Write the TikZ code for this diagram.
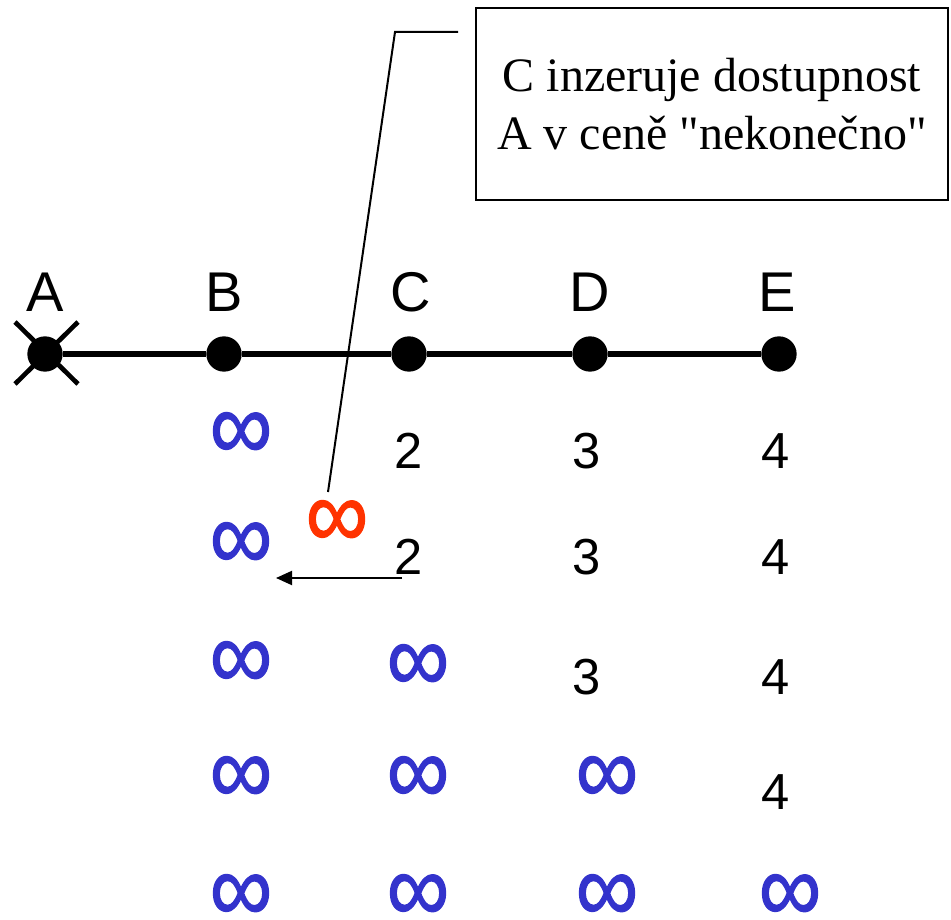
\documentclass[tikz,border=0pt]{standalone}
\usepackage{fontspec}
\setmainfont{Liberation Sans}
\newfontfamily\serifbox{Liberation Serif}
\newfontfamily\inffont[FakeBold=1.2]{Liberation Sans}
\usetikzlibrary{arrows.meta}
\definecolor{infblue}{RGB}{51,51,204}
\definecolor{infred}{RGB}{255,51,0}
\newcommand{\myinf}{\scalebox{1}[1.12]{\inffont\fontsize{66}{70}\selectfont ∞}}
\begin{document}
\begin{tikzpicture}[x=0.75pt,y=-0.75pt,
  dot/.style={circle,fill=black,inner sep=0pt,minimum size=26.5pt},
  lbl/.style={font=\fontsize{42}{48}\selectfont,inner sep=0pt},
  num/.style={font=\fontsize{38}{44}\selectfont,inner sep=0pt},
  inf/.style={text=infblue,inner sep=0pt},
  infr/.style={inf,text=infred},
  line/.style={line width=4pt},
  thin/.style={line width=1.5pt}]
\useasboundingbox (0,0) rectangle (951,920);
% nodes on the line
\node[dot] (A) at (45,354) {};
\node[dot] (B) at (224,354) {};
\node[dot] (C) at (409,354) {};
\node[dot] (D) at (590,354) {};
\node[dot] (E) at (779,354) {};
\draw[line] (A) -- (B) -- (C) -- (D) -- (E);
\draw[line width=3.5pt] ([shift={(-30,-32)}]A.center) -- ([shift={(33,30)}]A.center);
\draw[line width=3.5pt] ([shift={(33,-32)}]A.center) -- ([shift={(-30,30)}]A.center);
% labels
\node[lbl] (lA) at (45,292) {A};
\node[lbl] (lB) at (224,292) {B};
\node[lbl] (lC) at (411,292) {C};
\node[lbl] (lD) at (590,292) {D};
\node[lbl] (lE) at (777,292) {E};
% row 1
\node[inf] (b1) at (241,436) {\myinf};
\node[num] (c1) at (409,451) {2};
\node[num] (d1) at (587,451) {3};
\node[num] (e1) at (776,451) {4};
% row 2
\node[inf] (b2) at (241,546) {\myinf};
\node[infr] (r2) at (337,524) {\myinf};
\node[num] (c2) at (409,557) {2};
\node[num] (d2) at (587,557) {3};
\node[num] (e2) at (776,557) {4};
% row 3
\node[inf] (b3) at (241,665) {\myinf};
\node[inf] (c3) at (418,668) {\myinf};
\node[num] (d3) at (587,677) {3};
\node[num] (e3) at (776,677) {4};
% row 4
\node[inf] (b4) at (241,780) {\myinf};
\node[inf] (c4) at (418,780) {\myinf};
\node[inf] (d4) at (607,780) {\myinf};
\node[num] (e4) at (776,792) {4};
% row 5
\node[inf] (b5) at (241,898) {\myinf};
\node[inf] (c5) at (418,898) {\myinf};
\node[inf] (d5) at (607,898) {\myinf};
\node[inf] (e5) at (790,898) {\myinf};
% arrow
\coordinate (as) at (402,578);
\coordinate (ae) at (276,578);
\draw[thin,-{Triangle[length=12pt,width=10.5pt]}] (as) -- (ae);
% callout
\node[draw,line width=2pt,minimum width=354pt,minimum height=144pt,inner sep=0pt,
  align=center,font=\serifbox\fontsize{36}{43.5}\selectfont] (box) at (712,104)
  {C inzeruje dostupnost\\A v ceně "nekonečno"};
\coordinate (p1) at (328,492);
\coordinate (p2) at (395,32);
\coordinate (p3) at (458,32);
\draw[thin] (p1) -- (p2) -- (p3);
\end{tikzpicture}
\end{document}
